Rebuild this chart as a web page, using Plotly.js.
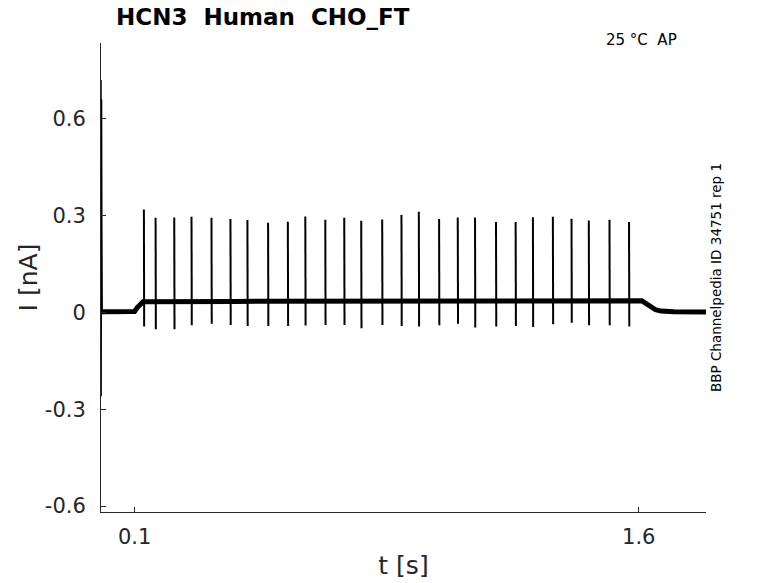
<!DOCTYPE html>
<html>
<head>
<meta charset="utf-8">
<script src="https://cdn.plot.ly/plotly-3.0.1.min.js"></script>
<style>
html,body{margin:0;padding:0;background:#fff;}
#chart{width:778px;height:583px;}
</style>
</head>
<body>
<div id="chart"></div>
<script>
// Spike times (s), peak and trough currents (nA)
var spikeT = [0.1276,0.1624,0.2179,0.2693,0.3287,0.3851,0.4356,0.4971,0.5559,0.6079,0.6673,0.7237,0.7742,0.8366,0.8939,0.9456,1.0059,1.0614,1.1128,1.1752,1.2336,1.2850,1.3444,1.3999,1.4513,1.5128,1.5710];
var spikePeak = [0.319,0.293,0.294,0.296,0.293,0.289,0.286,0.278,0.281,0.297,0.287,0.293,0.284,0.288,0.302,0.312,0.289,0.294,0.294,0.280,0.280,0.295,0.296,0.290,0.285,0.287,0.280];
var spikeTrough = [-0.044,-0.052,-0.052,-0.040,-0.035,-0.039,-0.042,-0.042,-0.042,-0.041,-0.039,-0.039,-0.049,-0.039,-0.042,-0.044,-0.040,-0.035,-0.047,-0.044,-0.042,-0.045,-0.037,-0.032,-0.040,-0.040,-0.044];

// Holding current (noisy band) over time
var baseT = [0, 0.1, 0.108, 0.118, 0.125, 0.4, 0.8, 1.2, 1.609, 1.622, 1.636, 1.65, 1.666, 1.704, 1.8];
var baseI = [0.002, 0.003, 0.015, 0.028, 0.033, 0.034, 0.035, 0.036, 0.036, 0.027, 0.015, 0.008, 0.004, 0.002, 0.001];

// Capacitive transient at onset
var transT = [0, 0.0004, 0.0008, 0.0012, 0.002, 0.0028, 0.004];
var transI = [0.002, 0.72, -0.26, 0.0, 0.66, 0.27, 0.005];

// Tick labels
var xTickVals = [0.1, 1.6];
var xTickText = ['0.1', '1.6'];
var yTickVals = [-0.6, -0.3, 0, 0.3, 0.6];
var yTickText = ['-0.6', '-0.3', '0', '0.3', '0.6'];

// Build spike segments
var sx = [], sy = [];
for (var i = 0; i < spikeT.length; i++) {
  sx.push(spikeT[i], spikeT[i] + 0.0008, null);
  sy.push(spikePeak[i], spikeTrough[i], null);
}

var FONT = 'DejaVu Sans, sans-serif';
var AX = '#262626';

var traces = [
  {x: baseT, y: baseI, mode: 'lines', line: {color: '#000', width: 5}, hoverinfo: 'skip', showlegend: false},
  {x: transT, y: transI, mode: 'lines', line: {color: '#000', width: 1.2}, hoverinfo: 'skip', showlegend: false},
  {x: sx, y: sy, mode: 'lines', line: {color: '#000', width: 2}, connectgaps: false, hoverinfo: 'skip', showlegend: false}
];

var layout = {
  width: 778, height: 583,
  paper_bgcolor: '#fff', plot_bgcolor: '#fff',
  margin: {l: 101, r: 72, t: 43, b: 71, pad: 0},
  showlegend: false,
  font: {family: FONT, color: AX},
  xaxis: {
    range: [0, 1.8], tickvals: xTickVals, ticktext: xTickText,
    ticks: 'inside', ticklen: 5, tickcolor: AX, tickwidth: 1,
    showline: true, linecolor: AX, linewidth: 1, mirror: false,
    showgrid: false, zeroline: false,
    tickfont: {family: FONT, size: 21, color: AX},
    ticklabelstandoff: 6,
    title: {text: 't [s]', font: {family: FONT, size: 25, color: AX}, standoff: 8}
  },
  yaxis: {
    range: [-0.6185, 0.8346], tickvals: yTickVals, ticktext: yTickText,
    ticks: 'inside', ticklen: 5, tickcolor: AX, tickwidth: 1,
    showline: true, linecolor: AX, linewidth: 1, mirror: false,
    showgrid: false, zeroline: false,
    tickfont: {family: FONT, size: 21, color: AX},
    ticklabelstandoff: 10,
    title: {text: 'I [nA]', font: {family: FONT, size: 25, color: AX}, standoff: 0}
  },
  annotations: [
    {text: '<b>HCN3  Human  CHO_FT</b>', xref: 'paper', yref: 'paper', x: 0.021, y: 1.055,
     xanchor: 'left', yanchor: 'middle', showarrow: false, font: {family: FONT, size: 23, color: '#000'}},
    {text: '25 °C  AP', xref: 'paper', yref: 'paper', x: 0.956, y: 1.006,
     xanchor: 'right', yanchor: 'middle', showarrow: false, font: {family: FONT, size: 15, color: '#000'}},
    {text: 'BBP Channelpedia ID 34751 rep 1', xref: 'paper', yref: 'paper', x: 1.0165, y: 0.501,
     xanchor: 'center', yanchor: 'middle', textangle: -90, showarrow: false, font: {family: FONT, size: 13.5, color: '#000'}}
  ]
};

Plotly.newPlot('chart', traces, layout, {displayModeBar: false, staticPlot: true});
</script>
</body>
</html>
